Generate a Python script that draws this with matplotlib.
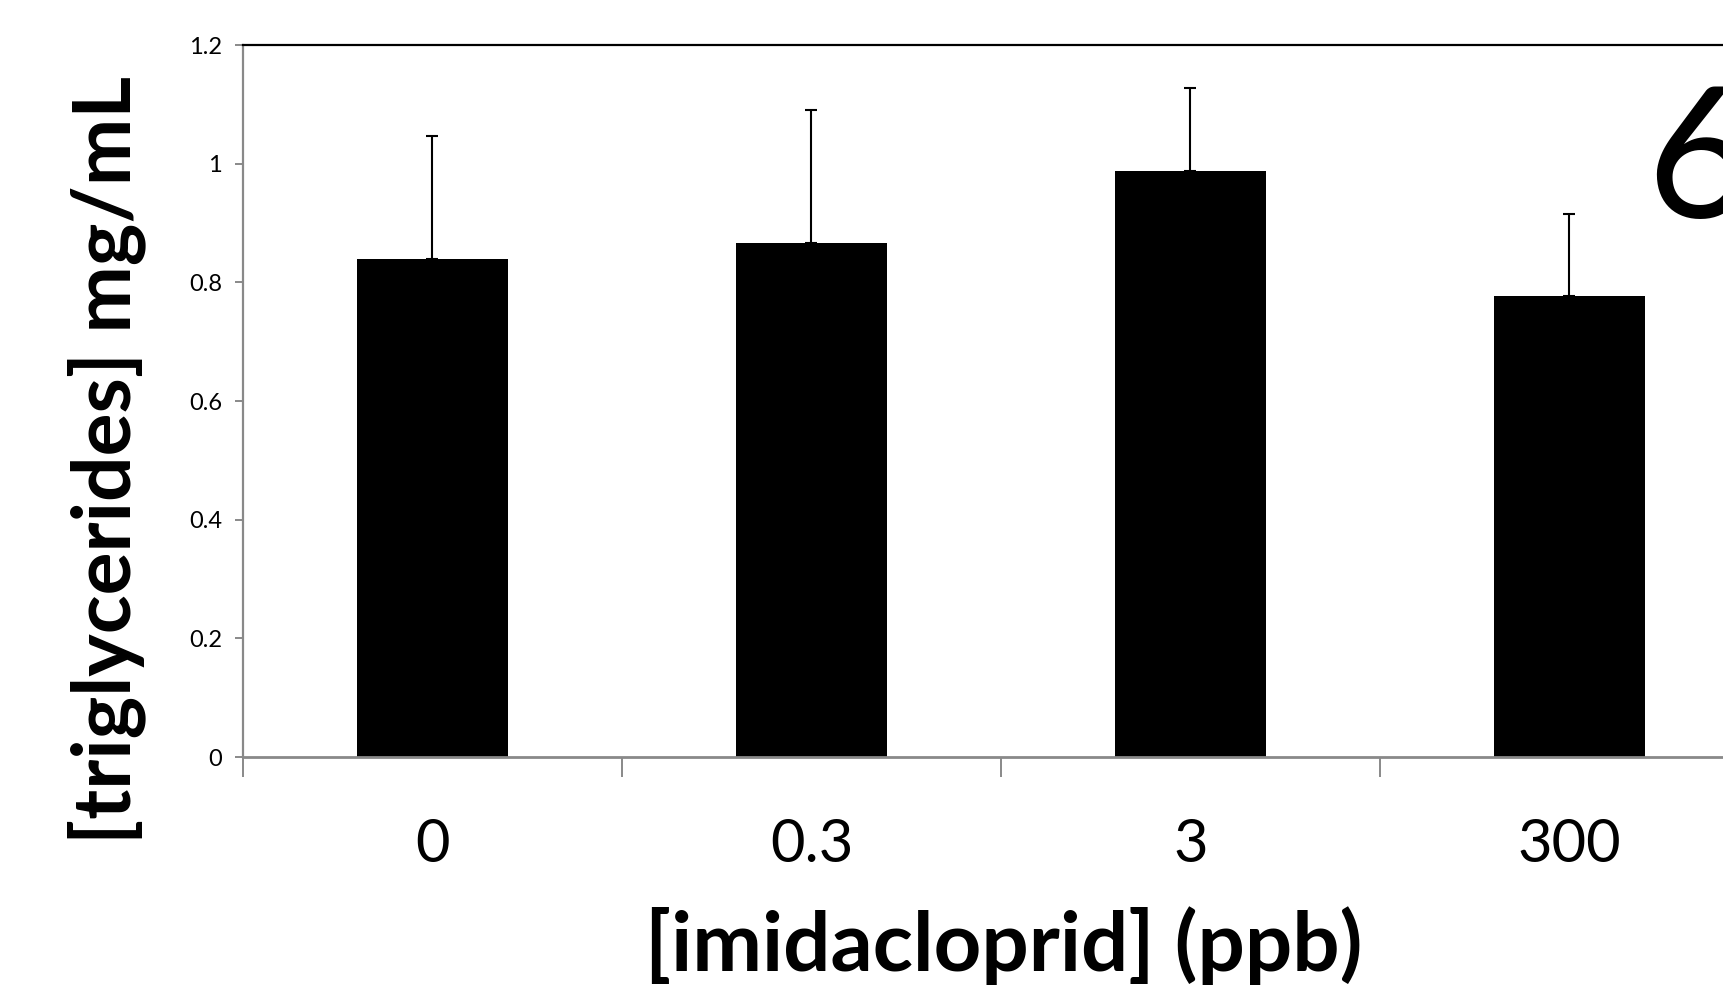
import numpy as np
import matplotlib
matplotlib.use('Agg')
import matplotlib.pyplot as plt

plt.rcParams['font.family'] = ['Lato', 'DejaVu Sans']

# data
doses = ['0', '0.3', '3', '300']
means = [0.84, 0.867, 0.987, 0.777]
err_up = [0.207, 0.224, 0.14, 0.139]

yticks = [0, 0.2, 0.4, 0.6, 0.8, 1, 1.2]
ytick_labels = ['0', '0.2', '0.4', '0.6', '0.8', '1', '1.2']

W, H = 1724, 986
fig = plt.figure(figsize=(W / 100, H / 100), dpi=100)
# axes runs past the right edge of the figure, as in the cropped original
ax = fig.add_axes([243 / W, (H - 757) / H, 1516 / W, 712 / H])

x = np.arange(len(doses))
ax.bar(x, means, width=0.4, color='black', zorder=2)
ax.errorbar(x, means, yerr=[np.zeros(len(means)), err_up], fmt='none',
            ecolor='black', elinewidth=1.5, capsize=4.5, capthick=1.5, zorder=3)

ax.set_xlim(-0.5, len(doses) - 0.5)
ax.set_ylim(0, 1.2)

grey = '#898989'
ax.spines['left'].set_color(grey)
ax.spines['left'].set_linewidth(1.6)
ax.spines['bottom'].set_color(grey)
ax.spines['bottom'].set_linewidth(2.0)
ax.spines['top'].set_color('black')
ax.spines['top'].set_linewidth(1.6)
ax.spines['right'].set_visible(False)

ax.set_yticks(yticks)
ax.set_yticklabels(ytick_labels)
ax.tick_params(axis='y', direction='out', length=6, width=1.4, color=grey,
               labelsize=17, pad=9)

ax.set_xticks(x)
ax.set_xticklabels(doses)
ax.tick_params(axis='x', which='major', length=0, labelsize=43, pad=44)
ax.set_xticks(np.arange(-0.5, len(doses)), minor=True)
ax.tick_params(axis='x', which='minor', direction='out', length=14.5,
               width=1.4, color=grey)

fig.text(1004 / W, (H - 946) / H, '[imidacloprid] (ppb)', ha='center',
         va='center', fontsize=60, fontweight='bold')
fig.text(107 / W, (H - 460) / H, '[triglycerides] mg/mL', ha='center',
         va='center', rotation=90, fontsize=58, fontweight='bold')

# panel label, partly cut by the right edge
fig.text(1646 / W, (H - 218) / H, '6', ha='left', va='baseline',
         fontsize=132)

fig.savefig('out.png', dpi=100)
